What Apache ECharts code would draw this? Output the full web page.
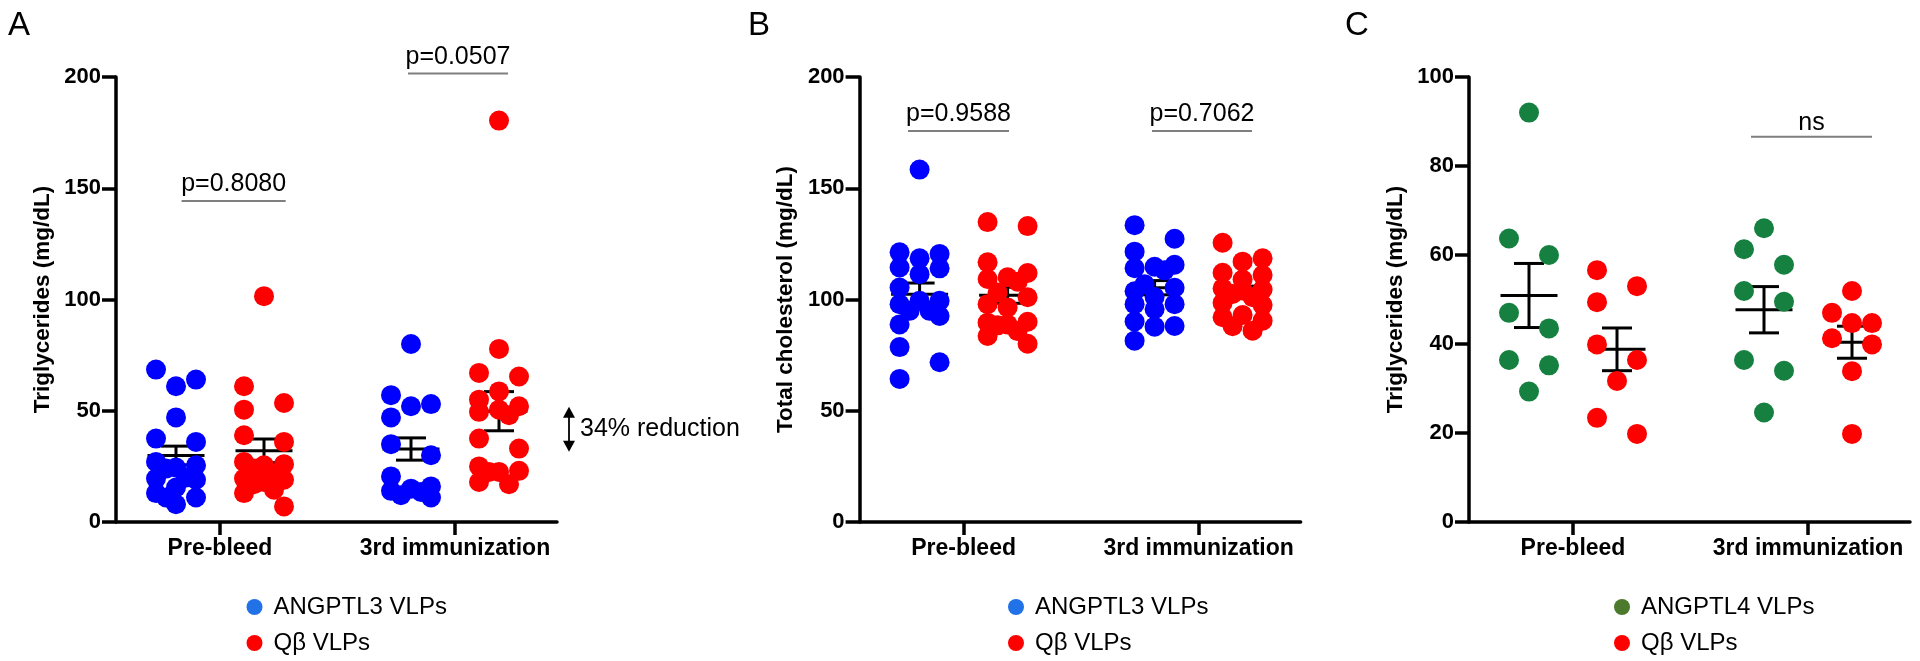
<!DOCTYPE html>
<html><head><meta charset="utf-8">
<script src="https://cdn.jsdelivr.net/npm/echarts@6/dist/echarts.min.js"></script>
<style>html,body{margin:0;padding:0;background:#fff;}#chart{width:1920px;height:661px;}</style>
</head><body><div id="chart"></div>
<script>
// ---------------- DATA ----------------
const categories = ['Pre-bleed', '3rd immunization'];
const panelLetters = ['A', 'B', 'C'];
const yAxisTitles = ['Triglycerides (mg/dL)', 'Total cholesterol (mg/dL)', 'Triglycerides (mg/dL)'];
const yMaxes = [200, 200, 100];
const yIntervals = [50, 50, 20];
const treatNames = [['ANGPTL3 VLPs', 'Qβ VLPs'], ['ANGPTL3 VLPs', 'Qβ VLPs'], ['ANGPTL4 VLPs', 'Qβ VLPs']];

// Panel A – triglycerides
const A_pre_ANGPTL3 = [68.5, 64, 61, 47, 37.5, 36, 27, 25.5, 24.5, 24, 20, 19.5, 19, 15.5, 13, 11, 11, 8];
const A_3rd_ANGPTL3 = [80, 57, 53, 52, 47, 35, 30, 20.5, 16, 15, 14, 13.5, 12, 11];
const A_pre_Qb = [101.5, 61, 53.5, 50.5, 39, 36, 27, 26, 25.5, 24, 21.5, 19.5, 19, 18, 17, 14.5, 13, 7];
const A_3rd_Qb = [180.4, 77.8, 67, 65.4, 58.7, 55, 52, 50.5, 49.5, 48, 37.5, 33, 25, 23, 22.5, 22.5, 18, 17];
const A_mean_ANGPTL3 = [29.9, 32.8], A_sem_ANGPTL3 = [4.2, 5.0];
const A_mean_Qb = [32.0, 49.8], A_sem_Qb = [5.3, 8.8];

// Panel B – total cholesterol
const B_pre_ANGPTL3 = [158.4, 121.2, 120.5, 118.5, 114.4, 114.0, 111.4, 105.4, 99.4, 99.4, 97.9, 94.9, 94.9, 92.6, 88.8, 78.6, 71.8, 64.3];
const B_3rd_ANGPTL3 = [133.4, 127.3, 121.5, 115.6, 114.7, 114.1, 113.1, 106.9, 105.3, 103.7, 101.1, 97.9, 97.9, 95.6, 90.1, 88.1, 87.8, 81.5];
const B_pre_Qb = [134.8, 133, 116.7, 111.9, 110, 109.2, 108, 103.2, 101, 97.9, 96.4, 90, 89.6, 88.8, 88.4, 85.8, 83.6, 80.1];
const B_3rd_Qb = [125.5, 118.5, 117, 112, 111, 109, 105, 104.5, 104, 102.5, 101, 98.5, 97.5, 93, 92, 90.5, 88, 86];
const B_mean_ANGPTL3 = [102.4, 105.3], B_sem_ANGPTL3 = [5.0, 3.2];
const B_mean_Qb = [101.9, 103.4], B_sem_Qb = [3.6, 2.6];

// Panel C – triglycerides
const C_pre_ANGPTL4 = [92.0, 63.7, 60.0, 47.0, 43.5, 36.4, 35.2, 29.3];
const C_3rd_ANGPTL4 = [66.0, 61.3, 57.8, 51.9, 49.5, 36.4, 34.0, 24.6];
const C_pre_Qb = [56.6, 53.0, 49.4, 39.9, 36.4, 31.7, 23.4, 19.8];
const C_3rd_Qb = [51.9, 47.0, 44.7, 44.7, 41.3, 39.9, 33.9, 19.8];
const C_mean_ANGPTL4 = [50.9, 47.7], C_sem_ANGPTL4 = [7.2, 5.2];
const C_mean_Qb = [38.8, 40.4], C_sem_Qb = [4.8, 3.6];

// p-value labels and the height (axis units) of the line they sit on
const pTexts = ['p=0.8080', 'p=0.0507', 'p=0.9588', 'p=0.7062', 'ns'];
const pLineValues = [144.3, 201.6, 175.7, 175.7, 86.6];
const reductionText = '34% reduction';

// ---------------- LAYOUT / STYLE ----------------
const FONT = '"Liberation Sans", Arial, Helvetica, sans-serif';
const GRID_TOP = 77, GRID_H = 445, GRID_W = 441;
const GRID_LEFTS = [116, 859.6, 1469];
const TICK_PX = [104, 339];
const PX_PER_X = TICK_PX[1] - TICK_PX[0];
const X_MIN = 1 - TICK_PX[0] / PX_PER_X;
const X_MAX = 1 + (GRID_W - TICK_PX[0]) / PX_PER_X;
const GROUP_PX = 44;
const DOT = 20;
const dotColors = [['#0000FF', '#FF0000'], ['#0000FF', '#FF0000'], ['#15803F', '#FF0000']];
const legendColors = [['#2172E6', '#FF0000'], ['#2172E6', '#FF0000'], ['#4B7A2C', '#FF0000']];
const legendLefts = [241.5, 1003, 1609];
const legendTops = [590, 626];
const letterX = [8, 748, 1345];
// annotation geometry: [panel, category, dx left px, dx right px, gap above line px]
const pGeom = [[0, 0, -38.4, 65.7, 4], [0, 1, -47, 53, 4], [1, 0, -55.6, 45.4, 4], [1, 1, -46.6, 53.4, 4], [2, 1, -57, 64, 1]];

const panelData = [
  { vals: [[A_pre_ANGPTL3, A_3rd_ANGPTL3], [A_pre_Qb, A_3rd_Qb]], mean: [A_mean_ANGPTL3, A_mean_Qb], sem: [A_sem_ANGPTL3, A_sem_Qb] },
  { vals: [[B_pre_ANGPTL3, B_3rd_ANGPTL3], [B_pre_Qb, B_3rd_Qb]], mean: [B_mean_ANGPTL3, B_mean_Qb], sem: [B_sem_ANGPTL3, B_sem_Qb] },
  { vals: [[C_pre_ANGPTL4, C_3rd_ANGPTL4], [C_pre_Qb, C_3rd_Qb]], mean: [C_mean_ANGPTL4, C_mean_Qb], sem: [C_sem_ANGPTL4, C_sem_Qb] }
];

// beeswarm: horizontal pixel offsets so dots do not pile up
function swarm(values, pxPerY, d) {
  const n = values.length;
  const order = values.map((v, i) => i).sort((a, b) => values[b] - values[a]);
  const placed = [];
  const off = new Array(n).fill(0);
  let prevOff = 0;
  for (let k = 0; k < n; k++) {
    const i = order[k];
    const y = values[i] * pxPerY;
    const closePrev = k > 0 && (values[order[k - 1]] - values[i]) * pxPerY < d;
    const closeNext = k < n - 1 && (values[i] - values[order[k + 1]]) * pxPerY < d;
    let cands;
    if (!closePrev && !closeNext) cands = [0];
    else if (!closePrev) cands = [-d];
    else {
      const alt = prevOff !== 0 ? -Math.sign(prevOff) * d : -d;
      cands = [alt, 0, -alt, alt / 2, -alt / 2];
    }
    let best = cands[0], bestScore = -Infinity;
    for (const c of cands) {
      let minD = Infinity;
      for (const p of placed) { const dd = Math.hypot(p.x - c, p.y - y); if (dd < minD) minD = dd; }
      if (minD >= d * 0.98) { best = c; break; }
      if (minD > bestScore) { bestScore = minD; best = c; }
    }
    off[i] = best; prevOff = best;
    placed.push({ x: best, y: y });
  }
  return off;
}

const grid = [], xAxis = [], yAxis = [], series = [], legend = [], graphic = [];
const axisLineStyle = { color: '#000', width: 3.5 };

for (let p = 0; p < 3; p++) {
  grid.push({ left: GRID_LEFTS[p], top: GRID_TOP, width: GRID_W, height: GRID_H });
  xAxis.push({
    type: 'value', gridIndex: p, min: X_MIN, max: X_MAX,
    axisLine: { show: true, onZero: false, lineStyle: axisLineStyle },
    axisTick: { show: true, customValues: [1, 2], length: 13, lineStyle: axisLineStyle },
    axisLabel: { show: true, customValues: [1, 2], formatter: v => categories[Math.round(v) - 1] || '',
      margin: 15, fontSize: 23, fontWeight: 'bold', color: '#000', fontFamily: FONT },
    splitLine: { show: false }
  });
  yAxis.push({
    type: 'value', gridIndex: p, min: 0, max: yMaxes[p], interval: yIntervals[p],
    axisLine: { show: true, lineStyle: axisLineStyle },
    axisTick: { show: true, length: 14, lineStyle: axisLineStyle },
    axisLabel: { margin: 15, fontSize: 22, fontWeight: 'bold', color: '#000', fontFamily: FONT },
    splitLine: { show: false },
    name: yAxisTitles[p], nameLocation: 'middle', nameGap: 62,
    nameTextStyle: { fontSize: 22.5, fontWeight: 'bold', color: '#000', fontFamily: FONT }
  });
  const pxPerY = GRID_H / yMaxes[p];
  const pd = panelData[p];
  // error bars (mean ± SEM)
  const ebData = [];
  for (let t = 0; t < 2; t++) for (let c = 0; c < 2; c++) {
    ebData.push([1 + c + (t === 0 ? -GROUP_PX : GROUP_PX) / PX_PER_X, pd.mean[t][c], pd.sem[t][c]]);
  }
  series.push({
    type: 'custom', xAxisIndex: p, yAxisIndex: p, z: 1, silent: true, data: ebData,
    renderItem: function (params, api) {
      const x = api.value(0), m = api.value(1), s = api.value(2);
      const c = api.coord([x, m]), t = api.coord([x, m + s]), b = api.coord([x, m - s]);
      const st = { stroke: '#000', lineWidth: 3 };
      return { type: 'group', children: [
        { type: 'line', shape: { x1: c[0] - 28.5, y1: c[1], x2: c[0] + 28.5, y2: c[1] }, style: st },
        { type: 'line', shape: { x1: c[0], y1: t[1], x2: c[0], y2: b[1] }, style: st },
        { type: 'line', shape: { x1: c[0] - 15, y1: t[1], x2: c[0] + 15, y2: t[1] }, style: st },
        { type: 'line', shape: { x1: c[0] - 15, y1: b[1], x2: c[0] + 15, y2: b[1] }, style: st }
      ] };
    }
  });
  // dots
  for (let t = 0; t < 2; t++) {
    const pts = [];
    for (let c = 0; c < 2; c++) {
      const vals = pd.vals[t][c];
      const off = swarm(vals, pxPerY, DOT);
      const center = (t === 0 ? -GROUP_PX : GROUP_PX);
      vals.forEach((v, i) => pts.push([1 + c + (center + off[i]) / PX_PER_X, v]));
    }
    series.push({
      type: 'scatter', name: treatNames[p][t], xAxisIndex: p, yAxisIndex: p, z: 2,
      symbol: 'circle', symbolSize: DOT, data: pts,
      itemStyle: { color: dotColors[p][t], opacity: 1 }
    });
    legend.push({
      orient: 'vertical', left: legendLefts[p], top: legendTops[t], itemWidth: 28, itemHeight: 16,
      icon: 'circle', selectedMode: false,
      data: [{ name: treatNames[p][t], itemStyle: { color: legendColors[p][t] } }],
      textStyle: { fontSize: 24, color: '#000', fontFamily: FONT }
    });
  }
  graphic.push({ type: 'text', left: letterX[p], top: 9,
    style: { text: panelLetters[p], fontSize: 33, fontFamily: FONT, fill: '#000' } });
}

// p-value annotations (custom series, per panel)
for (let p = 0; p < 3; p++) {
  const items = [];
  pGeom.forEach((g, k) => { if (g[0] === p) items.push(k); });
  series.push({
    type: 'custom', xAxisIndex: p, yAxisIndex: p, z: 3, silent: true, clip: false,
    data: items.map(k => [1 + pGeom[k][1] + pGeom[k][2] / PX_PER_X, pLineValues[k], 1 + pGeom[k][1] + pGeom[k][3] / PX_PER_X, k]),
    renderItem: function (params, api) {
      const a = api.coord([api.value(0), api.value(1)]);
      const b = api.coord([api.value(2), api.value(1)]);
      const k = api.value(3);
      return { type: 'group', children: [
        { type: 'line', shape: { x1: a[0], y1: a[1], x2: b[0], y2: b[1] }, style: { stroke: '#7f7f7f', lineWidth: 2 } },
        { type: 'text', style: { text: pTexts[k], x: (a[0] + b[0]) / 2, y: a[1] - pGeom[k][4], align: 'center', verticalAlign: 'bottom',
          fontSize: 25, fontFamily: FONT, fill: '#000' } }
      ] };
    }
  });
}
// 34% reduction arrow in panel A between the two 3rd-immunization means
series.push({
  type: 'custom', xAxisIndex: 0, yAxisIndex: 0, z: 3, silent: true, clip: false,
  data: [[1 + 1 + (GRID_W - TICK_PX[0] - PX_PER_X + 12) / PX_PER_X, A_mean_Qb[1] + 2.0, A_mean_ANGPTL3[1] - 1.2]],
  renderItem: function (params, api) {
    const t = api.coord([api.value(0), api.value(1)]);
    const b = api.coord([api.value(0), api.value(2)]);
    const x = t[0];
    return { type: 'group', children: [
      { type: 'line', shape: { x1: x, y1: t[1] + 8, x2: x, y2: b[1] - 8 }, style: { stroke: '#000', lineWidth: 1.8 } },
      { type: 'polygon', shape: { points: [[x, t[1]], [x - 6, t[1] + 11], [x + 6, t[1] + 11]] }, style: { fill: '#000' } },
      { type: 'polygon', shape: { points: [[x, b[1]], [x - 6, b[1] - 11], [x + 6, b[1] - 11]] }, style: { fill: '#000' } },
      { type: 'text', style: { text: reductionText, x: x + 11, y: (t[1] + b[1]) / 2, align: 'left', verticalAlign: 'middle',
        fontSize: 25, fontFamily: FONT, fill: '#000' } }
    ] };
  }
});

const chart = echarts.init(document.getElementById('chart'), null, { renderer: 'canvas' });
chart.setOption({
  animation: false, backgroundColor: '#fff',
  textStyle: { fontFamily: FONT },
  grid, xAxis, yAxis, series, legend, graphic
});
</script></body></html>
